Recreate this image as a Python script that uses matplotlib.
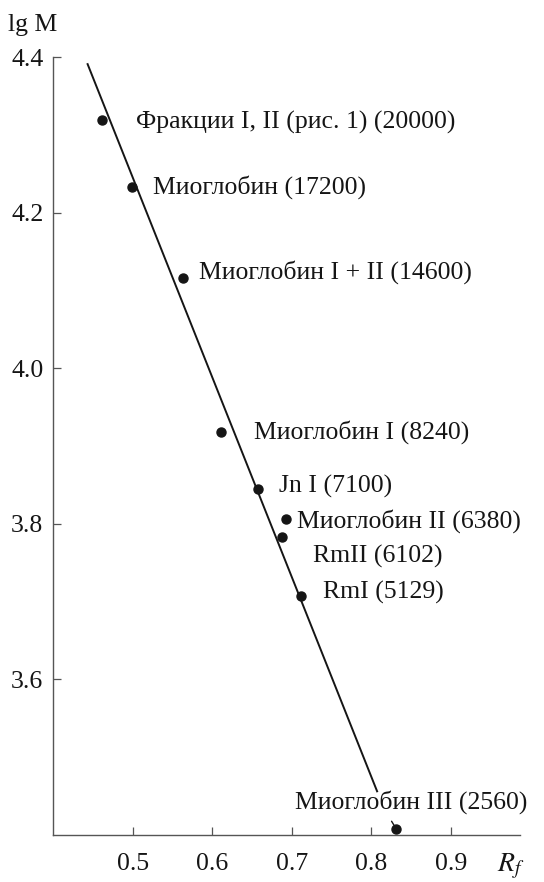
import matplotlib
matplotlib.use("Agg")
import matplotlib.pyplot as plt

plt.rcParams['font.family'] = ['Liberation Serif', 'DejaVu Serif']
plt.rcParams['mathtext.fontset'] = 'stix'

labels = ["Фракции I, II (рис. 1) (20000)", "Миоглобин (17200)", "Миоглобин I + II (14600)",
          "Миоглобин I (8240)", "Jn I (7100)", "Миоглобин II (6380)", "RmII (6102)",
          "RmI (5129)", "Миоглобин III (2560)"]
rf = [0.461, 0.499, 0.563, 0.611, 0.658, 0.693, 0.687, 0.711, 0.831]
lgm = [4.319, 4.233, 4.116, 3.918, 3.845, 3.806, 3.783, 3.707, 3.408]
fit_x = [0.443, 0.8075]
fit_y = [4.392, 3.455]
xticks = [0.5, 0.6, 0.7, 0.8, 0.9]
yticks = [3.6, 3.8, 4.0, 4.2, 4.4]
# label offsets in pixels (dx, dy)
offsets = [(34, -2), (21, 0), (16, 6), (33, 0), (21, 2), (11, -2), (31, -19), (22, 4), (-101, 27)]

W, H = 544, 882
fig = plt.figure(figsize=(W / 100, H / 100), dpi=100)
ax = fig.add_axes([53 / W, (H - 835) / H, (520 - 53) / W, (835 - 57) / H])
ax.set_xlim(0.4, 0.9865)
ax.set_ylim(3.4, 4.4)

ink = '#151515'
ax.plot(fit_x, fit_y, color=ink, lw=1.4, solid_capstyle='butt')
ax.plot(rf, lgm, 'o', color=ink, ms=6.5, clip_on=False, zorder=5)

fs = 18.5
for i, (lab, x, y, off) in enumerate(zip(labels, rf, lgm, offsets)):
    if i == len(labels) - 1:
        ax.annotate(lab, (x, y), xytext=off, textcoords='offset pixels', ha='left', va='center',
                    fontsize=fs, color=ink,
                    arrowprops=dict(arrowstyle='-', color=ink, lw=1.0,
                                    relpos=(0.395, 0.0), shrinkA=4, shrinkB=3))
    else:
        ax.annotate(lab, (x, y), xytext=off, textcoords='offset pixels', ha='left', va='center',
                    fontsize=fs, color=ink)

for s in ['top', 'right']:
    ax.spines[s].set_visible(False)
for s in ['left', 'bottom']:
    ax.spines[s].set_color('#555555')
    ax.spines[s].set_linewidth(1.0)

ax.set_xticks(xticks)
ax.set_xticklabels([f"{v:.1f}" for v in xticks])
ax.set_yticks(yticks)
ax.set_yticklabels([f"{v:.1f}" for v in yticks])
ax.tick_params(direction='in', length=6, width=0.9, color='#555555', labelsize=fs, labelcolor=ink)
ax.tick_params(axis='x', pad=13)
ax.tick_params(axis='y', pad=7)

fig.text(8 / W, 1 - 25 / H, "lg M", fontsize=fs, ha='left', va='center', color=ink)
fig.text(497 / W, 1 - 866 / H, r"$R_f$", fontsize=20, ha='left', va='center', color=ink)

fig.savefig("out.png", dpi=100)
